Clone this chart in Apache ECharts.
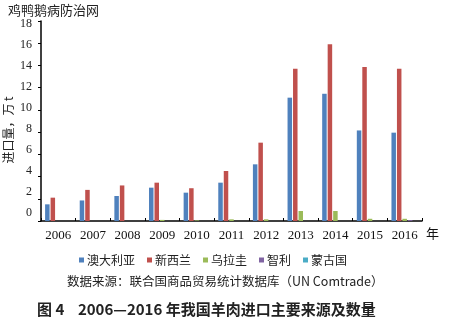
<!DOCTYPE html>
<html>
<head>
<meta charset="utf-8">
<script src="https://cdn.jsdelivr.net/npm/echarts@6/dist/echarts.min.js"></script>
<style>
  html, body { margin: 0; padding: 0; background: #fff; }
  #chart { width: 465px; height: 327px; }
</style>
</head>
<body>
<div id="chart"></div>
<script>
// Years on the category axis
const years = ['2006', '2007', '2008', '2009', '2010', '2011', '2012', '2013', '2014', '2015', '2016'];

// Mutton imports by source country, 10 000 t
const australia = [1.5, 1.85, 2.25, 3.0, 2.55, 3.45, 5.1, 11.1, 11.45, 8.15, 7.95];
const newZealand = [2.1, 2.8, 3.2, 3.45, 2.95, 4.5, 7.05, 13.7, 15.9, 13.85, 13.7];
const uruguay = [0, 0, 0, 0.1, 0.05, 0.15, 0.15, 0.9, 0.9, 0.2, 0.2];
const chile = [0, 0, 0, 0, 0, 0, 0, 0, 0, 0, 0.08];
const mongolia = [0, 0, 0, 0, 0, 0, 0, 0, 0, 0, 0];

const seriesNames = ['澳大利亚', '新西兰', '乌拉圭', '智利', '蒙古国'];
const seriesColors = ['#4F81BD', '#C0504D', '#9BBB59', '#8064A2', '#4BACC6'];
const seriesData = [australia, newZealand, uruguay, chile, mongolia];

// Value axis tick labels
const yTicks = [0, 2, 4, 6, 8, 10, 12, 14, 16, 18];

const serif = '"Liberation Serif", "Times New Roman", "Noto Sans CJK SC", serif';
const cjk = '"Noto Sans CJK SC", sans-serif';

const chart = echarts.init(document.getElementById('chart'), null, { renderer: 'canvas' });

chart.setOption({
  backgroundColor: '#fff',
  animation: false,
  grid: [
    { left: 41, right: 43, top: 21, bottom: 106 },
    { left: 41, right: 43, top: 24, bottom: 114 }
  ],
  legend: {
    data: seriesNames,
    left: 74,
    top: 249,
    itemWidth: 5,
    itemHeight: 5,
    itemGap: 12,
    icon: 'rect',
    textStyle: { fontFamily: cjk, fontSize: 12, color: '#222', padding: [0, 0, 0, -2] }
  },
  xAxis: [
    {
      type: 'category',
      gridIndex: 0,
      data: years,
      boundaryGap: true,
      axisLine: { lineStyle: { color: '#000', width: 1.5 } },
      axisTick: { show: true, inside: true, length: 3, lineStyle: { color: '#000' } },
      axisLabel: { margin: 8, fontFamily: serif, fontSize: 13, color: '#111' }
    },
    {
      type: 'category',
      gridIndex: 1,
      data: years,
      show: false
    }
  ],
  yAxis: [
    {
      type: 'value',
      gridIndex: 0,
      min: 0,
      max: 18,
      interval: 2,
      axisLine: { show: true, lineStyle: { color: '#000', width: 1.5 } },
      axisTick: { show: true, length: 3, lineStyle: { color: '#000' } },
      axisLabel: { show: false },
      splitLine: { show: false }
    },
    {
      // Tick labels for the value axis
      type: 'value',
      gridIndex: 1,
      min: 0,
      max: 18,
      interval: 2,
      axisLine: { show: false },
      axisTick: { show: false },
      splitLine: { show: false },
      axisLabel: {
        margin: 9,
        fontFamily: serif,
        fontSize: 12,
        color: '#222',
        formatter: function (v) { return yTicks.indexOf(v) >= 0 ? String(v) : ''; }
      }
    }
  ],
  series: seriesNames.map(function (name, i) {
    return {
      name: name,
      type: 'bar',
      xAxisIndex: 0,
      yAxisIndex: 0,
      data: seriesData[i],
      barWidth: 4.5,
      barGap: '22%',
      itemStyle: { color: seriesColors[i] }
    };
  }),
  graphic: [
    {
      type: 'text',
      left: 8,
      top: 4,
      style: { text: '鸡鸭鹅病防治网', fontFamily: cjk, fontSize: 13, fill: '#222' }
    },
    {
      type: 'text',
      x: 8,
      y: 130,
      rotation: Math.PI / 2,
      style: {
        text: '进口量，万 t',
        fontFamily: cjk,
        fontSize: 12,
        fill: '#222',
        align: 'center',
        verticalAlign: 'middle'
      }
    },
    {
      type: 'text',
      left: 426,
      top: 227,
      style: { text: '年', fontFamily: cjk, fontSize: 13, fill: '#111' }
    },
    {
      type: 'text',
      left: 67,
      top: 275,
      style: {
        text: '数据来源：联合国商品贸易统计数据库（UN Comtrade）',
        fontFamily: cjk,
        fontSize: 12.5,
        fill: '#222'
      }
    },
    {
      type: 'text',
      left: 37,
      top: 302,
      style: {
        text: '图 4    2006—2016 年我国羊肉进口主要来源及数量',
        fontFamily: cjk,
        fontSize: 15,
        fontWeight: 'bold',
        fill: '#222'
      }
    }
  ]
});
</script>
</body>
</html>
